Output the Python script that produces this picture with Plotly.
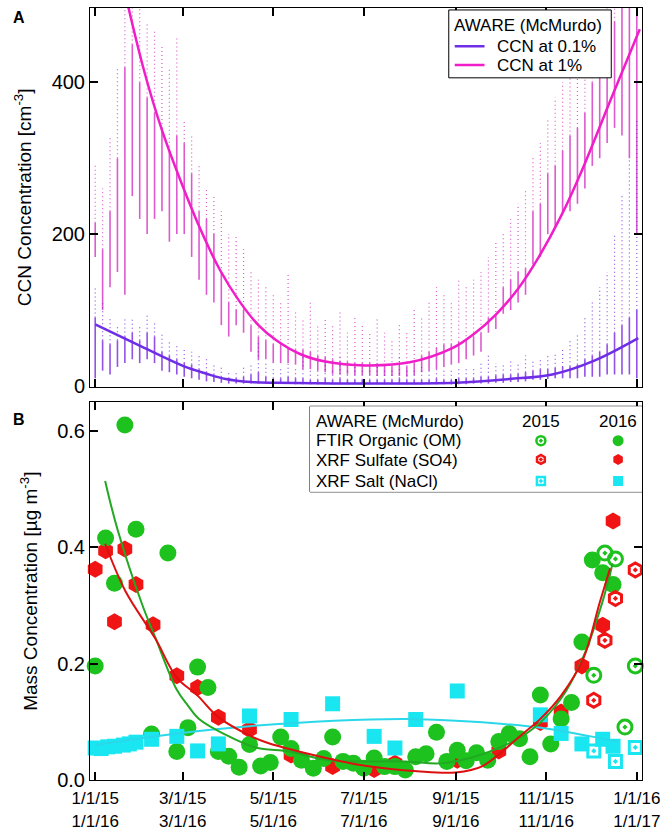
import plotly.graph_objects as go

# ---------------- Panel A: CCN data (day of year) ----------------
ccn_days = list(range(0, 366, 5))
ccn1_lo = [170, 100, 130, 150, 120, 250, 220, 200, 220, 230, 190, 200, 200, 170, 140, 120, 110, 80, 65, 80, 70,
           45, 35, 35, 30, 30, 30, 28, 22, 22, 20, 18, 15, 15, 15, 14, 14, 14, 13, 13, 13, 13, 12, 14, 18, 20,
           22, 25, 28, 30, 35, 40, 45, 70, 75, 95, 100, 110, 120, 160, 170, 200, 210, 230, 230, 240, 260, 290,
           300, 320, 340, 330, 300, 200]
ccn1_hi = [215, 180, 230, 300, 420, 450, 400, 380, 360, 340, 310, 330, 320, 280, 230, 220, 200, 150, 110, 100, 100,
           80, 65, 60, 55, 55, 50, 48, 48, 45, 40, 38, 35, 32, 32, 30, 30, 30, 28, 27, 26, 26, 26, 30, 40, 45,
           50, 55, 55, 58, 60, 65, 70, 90, 92, 130, 140, 150, 155, 230, 240, 280, 290, 310, 330, 340, 360, 400,
           420, 450, 480, 500, 500, 500]
ccn1_top = [290, 260, 330, 420, 500, 500, 500, 480, 470, 450, 420, 460, 350, 330, 290, 260, 250, 230, 200, 200, 180,
            150, 140, 130, 120, 110, 150, 100, 90, 110, 80, 90, 80, 100, 70, 90, 80, 70, 90, 70, 60, 80, 70, 100, 90, 110,
            130, 120, 110, 140, 130, 140, 150, 170, 190, 200, 220, 240, 260, 300, 320, 350, 380, 400, 420, 430, 460, 480,
            500, 500, 500, 500, 500, 500]

ccn01_lo = [10, 20, 15, 25, 30, 35, 30, 35, 30, 20, 18, 15, 12, 10, 8, 6, 5, 4, 3, 3, 3,
            3, 3, 3, 3, 3, 3, 2, 2, 2, 2, 2, 2, 2, 2, 2, 2, 2, 2, 2, 2, 2, 2, 2, 2, 2,
            2, 2, 2, 2, 2, 3, 3, 3, 4, 4, 5, 5, 6, 8, 8, 9, 10, 10, 10, 10, 12, 12,
            12, 15, 15, 15, 15, 10]
ccn01_hi = [90, 60, 55, 60, 65, 70, 60, 70, 65, 45, 40, 35, 30, 28, 22, 18, 15, 12, 10, 10, 12,
            15, 18, 12, 10, 10, 12, 10, 10, 8, 8, 10, 8, 10, 8, 8, 8, 8, 8, 8, 8, 10, 8, 8, 8, 8,
            10, 8, 8, 10, 10, 10, 12, 12, 14, 15, 15, 16, 18, 20, 22, 22, 24, 25, 26, 28, 35, 40,
            45, 55, 70, 80, 90, 100]
ccn01_top = [130, 110, 90, 80, 90, 90, 80, 95, 85, 70, 60, 55, 50, 45, 40, 35, 30, 25, 20, 20, 25,
             30, 60, 30, 25, 25, 30, 25, 40, 20, 20, 35, 20, 40, 20, 25, 20, 20, 30, 20, 20, 40, 20, 20, 25, 20,
             25, 20, 20, 25, 25, 25, 30, 40, 30, 30, 35, 30, 40, 35, 35, 40, 45, 50, 60, 70, 90, 110,
             130, 150, 200, 250, 300, 350]

fit01_days = [0, 31, 59.5, 75, 88, 105, 122, 182, 243, 279, 308, 336, 366]
fit01_vals = [81, 52, 26, 16, 9, 5, 4, 3, 4, 9, 15, 33, 63]
fit1_days = [22, 33, 45, 58, 71, 84, 97, 110, 122, 138, 155, 182, 212, 241, 255, 270, 285, 299, 314, 328, 348, 367]
fit1_vals = [502, 415, 337, 268, 206, 153, 112, 80, 60, 42, 32, 27, 31, 50, 68, 94, 128, 170, 224, 284, 380, 470]

# ---------------- Panel B: filter data ----------------
om16_days = [0, 7, 13, 20, 27.5, 38, 49, 55, 62.5, 69, 76, 83, 90, 97, 104, 111.5, 118, 125, 132, 139, 147,
             154, 160, 167, 174, 181, 188, 195, 202, 209, 216, 223, 230, 237, 244, 250, 257, 264.5, 272,
             279, 286, 293, 300, 307, 314, 321, 328, 335, 342, 349]
om16_vals = [0.196, 0.416, 0.338, 0.610, 0.431, 0.079, 0.390, 0.049, 0.090, 0.194, 0.159, 0.049, 0.041, 0.022,
             0.061, 0.024, 0.030, 0.074, 0.054, 0.034, 0.020, 0.037, 0.074, 0.032, 0.029, 0.020, 0.038, 0.023,
             0.023, 0.017, 0.040, 0.045, 0.082, 0.032, 0.051, 0.033, 0.047, 0.034, 0.066, 0.080, 0.071, 0.040,
             0.146, 0.062, 0.105, 0.133, 0.237, 0.378, 0.356, 0.336]
om15_days = [336, 343.5, 350.6, 357, 364]
om15_vals = [0.180, 0.390, 0.380, 0.091, 0.196]

so4_16_days = [0, 7, 13, 20, 27.5, 39, 55, 69, 83, 104, 132, 160, 188, 202, 244, 272, 300, 314, 328, 342, 349]
so4_16_vals = [0.362, 0.394, 0.272, 0.397, 0.336, 0.267, 0.179, 0.159, 0.108, 0.087, 0.043, 0.023, 0.018,
               0.029, 0.034, 0.050, 0.099, 0.117, 0.196, 0.266, 0.445]
so4_15_days = [336, 343.5, 350.6, 364]
so4_15_vals = [0.137, 0.240, 0.312, 0.361]

nacl16_days = [0, 4, 8.5, 13, 19, 23, 27.5, 38, 55, 69, 83, 104, 132, 160, 188, 202, 216, 244, 300, 314, 328,
               342, 349]
nacl16_vals = [0.055, 0.054, 0.057, 0.058, 0.060, 0.062, 0.065, 0.070, 0.075, 0.050, 0.062, 0.110, 0.104,
               0.131, 0.075, 0.055, 0.104, 0.153, 0.112, 0.080, 0.062, 0.070, 0.058]
nacl15_days = [336, 350.6, 364]
nacl15_vals = [0.050, 0.032, 0.056]

fit_om_days = [6.7, 15, 31.6, 40.5, 55, 62.5, 70, 87, 108, 131, 157, 209, 235, 271, 295, 314, 328.5, 341.6, 348.7]
fit_om_vals = [0.514, 0.431, 0.302, 0.245, 0.155, 0.128, 0.105, 0.079, 0.056, 0.049, 0.034, 0.032, 0.029,
               0.054, 0.088, 0.140, 0.209, 0.304, 0.372]
fit_so4_days = [6.7, 20.5, 40.5, 55, 69, 83, 106, 116, 157, 183, 217, 243, 261, 287, 300, 314, 329, 340, 347]
fit_so4_vals = [0.406, 0.324, 0.243, 0.176, 0.145, 0.108, 0.074, 0.064, 0.037, 0.024, 0.015, 0.013, 0.024,
                0.077, 0.105, 0.145, 0.209, 0.305, 0.364]
fit_nacl_days = [0, 55, 106, 161, 209, 243, 277, 305, 334, 352]
fit_nacl_vals = [0.060, 0.080, 0.093, 0.102, 0.105, 0.102, 0.096, 0.088, 0.075, 0.066]

tick_days = [0, 59, 120, 181, 243, 304, 365]
tick_text = ["1/1/15<br>1/1/16", "3/1/15<br>3/1/16", "5/1/15<br>5/1/16", "7/1/15<br>7/1/16",
             "9/1/15<br>9/1/16", "11/1/15<br>11/1/16", "1/1/16<br>1/1/17"]

# ---------------- styling ----------------
FONT = "Liberation Sans, Arial, Helvetica, sans-serif"
PURPLE_DOT = "#7a26e0"
PURPLE_FIT = "#6f2ee6"
MAG_DOT = "#d633c4"
MAG_FIT = "#f01ec8"
GREEN = "#1ec21e"
RED = "#f01414"
CYAN = "#19e6f0"

W, H = 667, 838
L, R, T, B = 90, 20, 7, 46
PW, PH = W - L - R, H - T - B


def pxx(p):
    return (p - L) / PW


def pxy(p):
    return (H - B - p) / PH


def segs(xs, lo, hi):
    X, Y = [], []
    for x, a, b in zip(xs, lo, hi):
        X += [x, x, None]
        Y += [a, b, None]
    return X, Y


fig = go.Figure()

# Panel A streaks (sparse outliers dotted, dense core solid)
for lo, hi, top, dot_col in [(ccn1_lo, ccn1_hi, ccn1_top, MAG_DOT), (ccn01_lo, ccn01_hi, ccn01_top, PURPLE_DOT)]:
    X, Y = segs(ccn_days, hi, top)
    fig.add_trace(go.Scatter(x=X, y=Y, mode="lines", line=dict(color=dot_col, width=1.2, dash="1px,3px"),
                             opacity=0.8, showlegend=False, hoverinfo="skip", xaxis="x", yaxis="y"))
    X, Y = segs(ccn_days, lo, hi)
    fig.add_trace(go.Scatter(x=X, y=Y, mode="lines", line=dict(color=dot_col, width=1.6),
                             opacity=0.8, showlegend=False, hoverinfo="skip", xaxis="x", yaxis="y"))

fig.add_trace(go.Scatter(x=fit01_days, y=fit01_vals, mode="lines",
                         line=dict(color=PURPLE_FIT, width=2.5, shape="spline"),
                         showlegend=False, xaxis="x", yaxis="y"))
fig.add_trace(go.Scatter(x=fit1_days, y=fit1_vals, mode="lines",
                         line=dict(color=MAG_FIT, width=2.5, shape="spline"),
                         showlegend=False, xaxis="x", yaxis="y"))


# Panel B markers
def mk(x, y, symbol, color, size, ring=False):
    if ring:
        m = dict(symbol=symbol + "-open-dot", size=size, color=color, line=dict(color=color, width=3))
    else:
        m = dict(symbol=symbol, size=size, color=color, line=dict(width=0))
    return go.Scatter(x=x, y=y, mode="markers", marker=m, showlegend=False, xaxis="x2", yaxis="y2",
                      cliponaxis=False)


fig.add_trace(mk(so4_16_days, so4_16_vals, "hexagon", RED, 17))
fig.add_trace(mk(om16_days, om16_vals, "circle", GREEN, 17))
fig.add_trace(mk(nacl16_days, nacl16_vals, "square", CYAN, 15))
fig.add_trace(mk(so4_15_days, so4_15_vals, "hexagon", RED, 14, ring=True))
fig.add_trace(mk(om15_days, om15_vals, "circle", GREEN, 14, ring=True))
fig.add_trace(mk(nacl15_days, nacl15_vals, "square", CYAN, 12, ring=True))

fig.add_trace(go.Scatter(x=fit_nacl_days, y=fit_nacl_vals, mode="lines",
                         line=dict(color="#2ad8ea", width=2, shape="spline"),
                         showlegend=False, xaxis="x2", yaxis="y2"))
fig.add_trace(go.Scatter(x=fit_om_days, y=fit_om_vals, mode="lines",
                         line=dict(color="#22a822", width=2, shape="spline"),
                         showlegend=False, xaxis="x2", yaxis="y2"))
fig.add_trace(go.Scatter(x=fit_so4_days, y=fit_so4_vals, mode="lines",
                         line=dict(color="#dc1010", width=2, shape="spline"),
                         showlegend=False, xaxis="x2", yaxis="y2"))

# ---- Panel A legend (overlay axis spanning the box: white backing + line swatches)
a_x0, a_x1, a_y0, a_y1 = pxx(452), pxx(616), pxy(78), pxy(9)
fig.add_trace(go.Scatter(x=[0, 1, 1, 0, 0], y=[0, 0, 1, 1, 0], mode="lines", fill="toself",
                         fillcolor="white", line=dict(width=0), showlegend=False,
                         xaxis="x4", yaxis="y4", hoverinfo="skip"))
for col, ry in [(PURPLE_FIT, 0.464), (MAG_FIT, 0.188)]:
    fig.add_trace(go.Scatter(x=[0.037, 0.22], y=[ry, ry], mode="lines", line=dict(color=col, width=2.5),
                             showlegend=False, xaxis="x4", yaxis="y4", hoverinfo="skip"))

# ---- Panel B legend swatches
box_x0, box_x1, box_y0, box_y1 = pxx(312), 1.0, pxy(499), pxy(412)
leg_cols = [0.6955, 0.928]
leg_rows = [0.598, 0.379, 0.126]
leg_syms = [("circle", GREEN, 11), ("hexagon", RED, 11), ("square", CYAN, 10)]
for (sym, col, sz), ry in zip(leg_syms, leg_rows):
    fig.add_trace(go.Scatter(x=[leg_cols[0]], y=[ry], mode="markers",
                             marker=dict(symbol=sym + "-open-dot", size=sz - 2, color=col,
                                         line=dict(color=col, width=2.5)),
                             showlegend=False, xaxis="x3", yaxis="y3", hoverinfo="skip"))
    fig.add_trace(go.Scatter(x=[leg_cols[1]], y=[ry], mode="markers",
                             marker=dict(symbol=sym, size=sz, color=col),
                             showlegend=False, xaxis="x3", yaxis="y3", hoverinfo="skip"))

xr = [-3.5, 368.5]
common_x = dict(range=xr, tickvals=tick_days, ticks="inside", ticklen=8, tickwidth=1.5, tickcolor="black",
                showline=True, linecolor="black", linewidth=1, mirror="allticks", showgrid=False, zeroline=False)
common_y = dict(ticks="inside", ticklen=8, tickwidth=1.5, tickcolor="black", showline=True, linecolor="black",
                linewidth=1, mirror="allticks", showgrid=False, zeroline=False,
                tickfont=dict(size=20, family=FONT, color="black"))

yA0 = pxy(392)
yB1 = pxy(408)

fig.update_layout(
    width=W, height=H, margin=dict(l=L, r=R, t=T, b=B),
    paper_bgcolor="white", plot_bgcolor="white",
    font=dict(family=FONT, color="black"),
    showlegend=False,
    xaxis=dict(common_x, anchor="y", domain=[0, 1], showticklabels=False),
    yaxis=dict(common_y, anchor="x", domain=[yA0, 1], range=[-1, 498], tickvals=[0, 200, 400],
               title=dict(text="CCN Concentration [cm<sup>-3</sup>]", font=dict(size=19, family=FONT), standoff=14)),
    xaxis2=dict(common_x, anchor="y2", domain=[0, 1], ticktext=tick_text, ticklabelstandoff=3,
                ticklabeloverflow="allow", tickfont=dict(size=17, family=FONT, color="black")),
    yaxis2=dict(common_y, anchor="x2", domain=[0, yB1], range=[0, 0.649], tickvals=[0, 0.2, 0.4, 0.6],
                tickformat=".1f",
                title=dict(text="Mass Concentration [µg m<sup>-3</sup>]", font=dict(size=19, family=FONT),
                           standoff=14)),
    xaxis3=dict(domain=[box_x0, box_x1], range=[0, 1], visible=False, anchor="y3", fixedrange=True),
    yaxis3=dict(domain=[box_y0, box_y1], range=[0, 1], visible=False, anchor="x3", fixedrange=True),
    xaxis4=dict(domain=[a_x0, a_x1], range=[0, 1], visible=False, anchor="y4", fixedrange=True),
    yaxis4=dict(domain=[a_y0, a_y1], range=[0, 1], visible=False, anchor="x4", fixedrange=True),
    shapes=[
        dict(type="rect", xref="paper", yref="paper", x0=box_x0, x1=box_x1, y0=box_y0, y1=box_y1,
             line=dict(color="black", width=1), fillcolor="white", layer="below"),
        dict(type="rect", xref="paper", yref="paper", x0=a_x0, x1=a_x1, y0=a_y0, y1=a_y1,
             line=dict(color="black", width=1), layer="above"),
    ],
)

ann = [
    dict(text="<b>A</b>", x=pxx(10), y=pxy(17), xanchor="left", yanchor="middle", font=dict(size=16)),
    dict(text="<b>B</b>", x=pxx(10), y=pxy(425), xanchor="left", yanchor="middle", font=dict(size=16)),
    dict(text="AWARE (McMurdo)", x=pxx(455), y=pxy(25), xanchor="left", yanchor="middle", font=dict(size=17)),
    dict(text="CCN at 0.1%", x=pxx(499), y=pxy(46), xanchor="left", yanchor="middle", font=dict(size=17)),
    dict(text="CCN at 1%", x=pxx(499), y=pxy(65), xanchor="left", yanchor="middle", font=dict(size=17)),
    dict(text="AWARE (McMurdo)", x=pxx(316), y=pxy(427), xanchor="left", yanchor="middle", font=dict(size=17)),
    dict(text="FTIR Organic (OM)", x=pxx(316), y=pxy(447), xanchor="left", yanchor="middle", font=dict(size=17)),
    dict(text="XRF Sulfate (SO4)", x=pxx(316), y=pxy(467), xanchor="left", yanchor="middle", font=dict(size=17)),
    dict(text="XRF Salt (NaCl)", x=pxx(316), y=pxy(488), xanchor="left", yanchor="middle", font=dict(size=17)),
    dict(text="2015", x=pxx(545), y=pxy(427), xanchor="center", yanchor="middle", font=dict(size=17)),
    dict(text="2016", x=pxx(623), y=pxy(427), xanchor="center", yanchor="middle", font=dict(size=17)),
]
for a in ann:
    a.update(xref="paper", yref="paper", showarrow=False)
    a["font"].update(family=FONT, color="black")
fig.update_layout(annotations=ann)

fig.write_html("out.html", config={"displayModeBar": False},
               post_script="document.body.style.margin='0px';")
